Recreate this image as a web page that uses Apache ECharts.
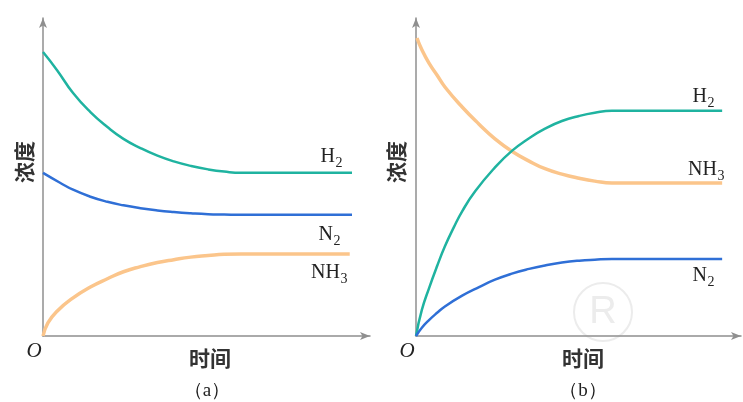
<!DOCTYPE html>
<html>
<head>
<meta charset="utf-8">
<script src="https://cdn.jsdelivr.net/npm/echarts@6/dist/echarts.min.js"></script>
<style>html,body{margin:0;padding:0;background:#fff;}#c{width:743px;height:402px;}</style>
</head>
<body>
<div id="c"></div>
<script>
// Panel (a): time, concentration (arbitrary units)
var aH2 = [[0,8.93],[0.43,8.36],[0.92,7.64],[1.45,7.04],[1.97,6.57],[2.46,6.20],[2.98,5.91],[3.5,5.67],[4.0,5.49],[4.52,5.35],[5.05,5.24],[5.54,5.17],[6.06,5.13],[9.45,5.13]];
var aN2 = [[0,5.13],[0.52,4.82],[0.92,4.60],[1.45,4.38],[1.97,4.22],[2.46,4.11],[2.98,4.02],[3.5,3.95],[4.0,3.90],[4.52,3.86],[5.05,3.83],[5.54,3.82],[6.06,3.81],[9.45,3.81]];
var aNH3 = [[0,0],[0.15,0.41],[0.43,0.78],[0.92,1.20],[1.45,1.54],[1.97,1.80],[2.46,2.02],[2.98,2.18],[3.5,2.31],[4.0,2.40],[4.52,2.48],[5.05,2.53],[5.54,2.57],[6.06,2.58],[9.38,2.58]];
// Panel (b)
var bNH3 = [[0.03,9.37],[0.18,9.0],[0.4,8.58],[0.65,8.2],[0.89,7.83],[1.42,7.20],[1.94,6.66],[2.43,6.20],[2.95,5.81],[3.48,5.50],[3.97,5.26],[4.49,5.09],[5.02,4.96],[5.5,4.87],[6.03,4.81],[9.42,4.81]];
var bH2 = [[0,0],[0.18,0.82],[0.4,1.50],[0.65,2.20],[0.89,2.82],[1.17,3.43],[1.42,3.92],[1.82,4.55],[2.43,5.30],[2.95,5.82],[3.48,6.22],[3.97,6.52],[4.49,6.76],[5.02,6.92],[5.5,7.02],[6.03,7.08],[9.42,7.08]];
var bN2 = [[0,0],[0.18,0.26],[0.4,0.50],[0.65,0.73],[0.89,0.93],[1.42,1.27],[1.94,1.54],[2.43,1.77],[2.95,1.96],[3.48,2.11],[3.97,2.22],[4.49,2.31],[5.02,2.37],[5.5,2.40],[6.03,2.42],[9.42,2.42]];
var yTitle = '浓度', xTitle = '时间', panelTitles = ['（a）', '（b）'];

var COL = {H2:'#1fb3a0', N2:'#2f6fd6', NH3:'#fbc58b'};
var chart = echarts.init(document.getElementById('c'));
function ax(idx, min, max){
  return {type:'value', gridIndex:idx, min:min, max:max,
    axisLine:{show:true, onZero:false, symbol:['none','arrow'], symbolSize:[6,10], lineStyle:{color:'#8f8f8f', width:1.5}},
    axisTick:{show:false}, axisLabel:{show:false}, splitLine:{show:false}};
}
function ser(idx, data, color, w){
  return {type:'line', xAxisIndex:idx, yAxisIndex:idx, data:data, smooth:0.5,
    showSymbol:false, lineStyle:{color:color, width:w||2.5}, silent:true, z:3};
}
var serif = '"Liberation Serif","DejaVu Serif",serif';
var cjk = '"Noto Sans CJK SC",sans-serif';
function lab(x, y, main, sub){
  return [
    {type:'text', x:x, y:y, style:{text:main, font:'20px '+serif, fill:'#222', textAlign:'right', textVerticalAlign:'middle'}},
    {type:'text', x:x+0.5, y:y+6, style:{text:sub, font:'14px '+serif, fill:'#222', textAlign:'left', textVerticalAlign:'middle'}}
  ];
}
var g = [];
g = g.concat(lab(335,157,'H','2'), lab(333,235,'N','2'), lab(340,273,'NH','3'));
g = g.concat(lab(707,97,'H','2'), lab(717,170,'NH','3'), lab(707,276,'N','2'));
[[24,162],[396,162]].forEach(function(p){
  g.push({type:'text', x:p[0], y:p[1], rotation:Math.PI/2, style:{text:yTitle, font:'bold 21px '+cjk, fill:'#333', textAlign:'center', textVerticalAlign:'middle'}});
});
[[34,351],[407,351]].forEach(function(p){
  g.push({type:'text', x:p[0], y:p[1], style:{text:'O', font:'italic 21px '+serif, fill:'#222', textAlign:'center', textVerticalAlign:'middle'}});
});
[[210,358],[583,358]].forEach(function(p){
  g.push({type:'text', x:p[0], y:p[1], style:{text:xTitle, font:'bold 21px '+cjk, fill:'#333', textAlign:'center', textVerticalAlign:'middle'}});
});
[[207,391],[583,391]].forEach(function(p,i){
  g.push({type:'text', x:p[0], y:p[1], style:{text:panelTitles[i], font:'19px '+serif, fill:'#222', textAlign:'center', textVerticalAlign:'middle'}});
});
// faint registered watermark
g.push({type:'circle', shape:{cx:603, cy:312, r:29}, style:{fill:'none', stroke:'#ececec', lineWidth:2}, z:-1});
g.push({type:'text', x:603, y:313, style:{text:'R', font:'38px "Liberation Sans",sans-serif', fill:'#ececec', textAlign:'center', textVerticalAlign:'middle'}, z:-1});

chart.setOption({
  animation:false,
  backgroundColor:'#fff',
  grid:[{left:43, top:18, width:327, height:318}, {left:416, top:18, width:325, height:318}],
  xAxis:[ax(0,0,10), ax(1,0,10)],
  yAxis:[ax(0,0,10), ax(1,0,10)],
  series:[
    ser(0,aH2,COL.H2), ser(0,aN2,COL.N2), ser(0,aNH3,COL.NH3,3.5),
    ser(1,bNH3,COL.NH3,3.5), ser(1,bH2,COL.H2), ser(1,bN2,COL.N2)
  ],
  graphic:g
});
</script>
</body>
</html>
